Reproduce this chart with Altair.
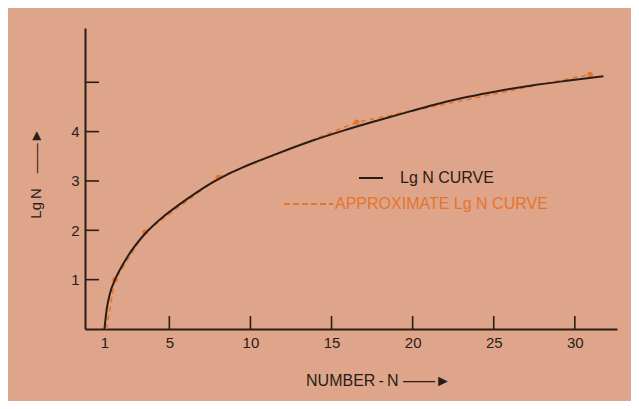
import altair as alt
import pandas as pd

# Black "Lg N" curve
N_CURVE = [1.0, 1.14, 1.34, 1.65, 2.07, 2.47, 3.5, 4.53, 5.56, 6.6, 7.51, 8.5,
           9.56, 11.62, 13.67, 15.73, 17.79, 19.84, 21.28, 23.34, 25.39, 27.44,
           29.5, 31.76]
LG_CURVE = [0.0, 0.40, 0.72, 1.00, 1.27, 1.49, 1.93, 2.25, 2.51, 2.75, 2.94, 3.12,
            3.28, 3.55, 3.80, 4.02, 4.22, 4.41, 4.54, 4.70, 4.83, 4.94,
            5.03, 5.12]

# Orange dashed approximate curve and its marked points
N_APPROX = [1.12, 1.65, 3.5, 8.02, 16.55, 30.94]
LG_APPROX = [0.0, 1.0, 1.96, 3.07, 4.19, 5.16]
N_DOTS = [1.65, 3.5, 8.02, 16.55, 30.94]
LG_DOTS = [1.0, 1.96, 3.07, 4.19, 5.16]

X_TICKS = [5, 10, 15, 20, 25, 30]
X_LABELS = [1, 5, 10, 15, 20, 25, 30]
Y_TICKS = [1, 2, 3, 4, 5]
Y_LABELS = [1, 2, 3, 4]
LEGEND_LABELS = ["Lg  N  CURVE", "APPROXIMATE Lg N CURVE"]
X_TITLE = "NUMBER\u2009-\u2009N  \u2014\u2014\u25BA"
Y_TITLE = "Lg\u2009N\u2002\u2002\u2014\u2014\u25BA"

BG = "#dfa58b"
INK = "#2a1c16"
ORANGE = "#e5742c"
FONT = "Liberation Sans"

W, H = 532, 301
xs = alt.Scale(domain=[-0.2, 32.6], nice=False, zero=False)
ys = alt.Scale(domain=[0, 6.1], nice=False, zero=False)

x_axis = alt.Axis(values=X_LABELS, ticks=False, grid=False, domainColor=INK,
                  domainWidth=2, labelColor=INK, labelFontSize=15, labelFont=FONT,
                  labelPadding=6, labelFlush=False, labelOverlap=False,
                  title=X_TITLE, titleX=293, titleY=51,
                  titleAlign="center", titleBaseline="middle", titleFontSize=16,
                  titleFont=FONT, titleFontWeight="normal", titleColor=INK)
y_axis = alt.Axis(values=Y_LABELS, ticks=False, grid=False, domainColor=INK,
                  domainWidth=2, labelColor=INK, labelFontSize=15, labelFont=FONT,
                  labelPadding=6, labelFlush=False, labelOverlap=False,
                  title=Y_TITLE, titleX=-50, titleY=145,
                  titleAngle=270, titleAlign="center", titleBaseline="middle",
                  titleFontSize=15, titleFont=FONT, titleFontWeight="normal",
                  titleColor=INK)


def X(field):
    return alt.X(field, scale=xs, axis=x_axis)


def Y(field):
    return alt.Y(field, scale=ys, axis=y_axis)


approx = alt.Chart(pd.DataFrame({"N": N_APPROX, "lg": LG_APPROX})).mark_line(
    color=ORANGE, strokeWidth=1.6, strokeDash=[5, 4]).encode(
    x=X("N:Q"), y=Y("lg:Q"))

dots = alt.Chart(pd.DataFrame({"N": N_DOTS, "lg": LG_DOTS})).mark_circle(
    color=ORANGE, size=30, opacity=1).encode(x=X("N:Q"), y=Y("lg:Q"))

curve = alt.Chart(pd.DataFrame({"N": N_CURVE, "lg": LG_CURVE})).mark_line(
    color=INK, strokeWidth=2, interpolate="monotone").encode(
    x=X("N:Q"), y=Y("lg:Q"))

xticks = alt.Chart(pd.DataFrame({"N": X_TICKS})).mark_rule(
    color=INK, strokeWidth=1.6).encode(
    x=X("N:Q"), y=alt.value(H), y2=alt.value(H - 13))

yticks = alt.Chart(pd.DataFrame({"lg": Y_TICKS})).mark_rule(
    color=INK, strokeWidth=1.6).encode(
    y=Y("lg:Q"), x=alt.value(0), x2=alt.value(14))

leg1_line = alt.Chart(pd.DataFrame({"k": [0]})).mark_rule(
    color=INK, strokeWidth=2).encode(
    x=alt.value(274), x2=alt.value(298), y=alt.value(150))
leg1_text = alt.Chart(pd.DataFrame({"label": [LEGEND_LABELS[0]]})).mark_text(
    align="left", baseline="middle", color=INK, fontSize=16, font=FONT).encode(
    x=alt.value(315), y=alt.value(150), text="label:N")

leg2_line = alt.Chart(pd.DataFrame({"k": [0]})).mark_rule(
    color=ORANGE, strokeWidth=2, strokeDash=[6, 3]).encode(
    x=alt.value(199), x2=alt.value(248), y=alt.value(176))
leg2_text = alt.Chart(pd.DataFrame({"label": [LEGEND_LABELS[1]]})).mark_text(
    align="left", baseline="middle", color=ORANGE, fontSize=16, font=FONT).encode(
    x=alt.value(250), y=alt.value(176), text="label:N")

chart = alt.layer(
    approx, dots, curve, xticks, yticks, leg1_line, leg1_text, leg2_line, leg2_text
).properties(
    width=W, height=H,
    autosize=alt.AutoSizeParams(type="none"),
    padding={"left": 77, "top": 20, "right": 14, "bottom": 72},
    background=BG,
).configure_view(stroke=None)

chart.save("out.html", embed_options={"renderer": "svg", "actions": False})
